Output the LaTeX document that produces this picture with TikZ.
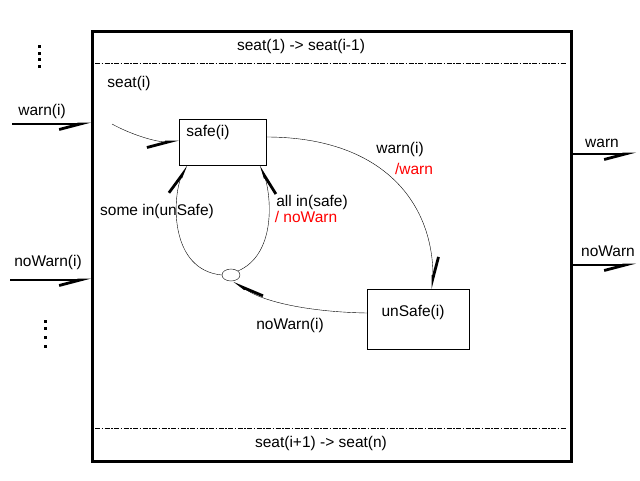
\documentclass[tikz,border=0pt]{standalone}
\usepackage{fontspec}
\setmainfont{Liberation Sans}
\usetikzlibrary{calc,arrows.meta,shapes.geometric}

\begin{document}
\begin{tikzpicture}[x=1pt, y=-1pt, font=\fontsize{15.5}{18}\selectfont,
    state/.style={draw, rectangle, inner sep=0pt},
    frame/.style={draw, line width=2.5pt, inner sep=0pt},
    txt/.style={inner sep=0pt},
    act/.style={txt, text=red},
    wire/.style={line width=2.5pt},
    sig/.style={line width=2pt},
    sep/.style={dash pattern=on 5pt off 1.5pt on 1.5pt off 1.5pt},
    barbL/.style={-{Straight Barb[left, length=21pt, width=11pt, line width=2.8pt]}},
    barbR/.style={-{Straight Barb[right, length=21pt, width=11pt, line width=2.8pt]}}]

  \useasboundingbox (0,0) rectangle (640,480);

  \node[frame, minimum width=479pt, minimum height=430pt, anchor=north west] (sys) at (91,30) {};
  \draw[sep] (95,63) -- (567,63);
  \draw[sep] (95,428) -- (567,428);
  \node[txt] (upper) at (301,46) {seat(1) -> seat(i-1)};
  \node[txt] (lower) at (321,443) {seat(i+1) -> seat(n)};
  \node[txt] (seat) at (129,83) {seat(i)};

  \node[state, minimum width=87pt, minimum height=46pt] (safe) at (222.5,142) {};
  \node[txt] (safename) at (208,132) {safe(i)};
  \node[state, minimum width=102pt, minimum height=60pt] (unsafe) at (418,319) {};
  \node[txt] (unsafename) at (413,312) {unSafe(i)};
  \node[draw, ellipse, inner sep=0pt, minimum width=18pt, minimum height=12pt] (join) at (231,275) {};

  \coordinate (init) at (112,124);
  \draw[barbR] (init) .. controls (130,134) and (155,142) .. (safe.west);
  \draw[barbL] ($(safe.east)+(0,-5)$) .. controls (380,137) and (433,200) .. ($(unsafe.north)+(15,0)$);
  \draw[barbR] ($(unsafe.west)+(0,-6)$) .. controls (310,312) and (262,302) .. (join.-60);
  \draw[barbL] (join.west) .. controls (170,270) and (172,200) .. ($(safe.south west)+(7,0)$);
  \draw[barbR] (join.30) .. controls (275,255) and (272,200) .. ($(safe.south east)+(-5,0)$);

  \node[txt] (trwarn) at (400,149) {warn(i)};
  \node[act] (trwarnout) at (414,169) {/warn};
  \node[txt] (trsome) at (157,211) {some in(unSafe)};
  \node[txt] (trall) at (312,202) {all in(safe)};
  \node[act] (trallout) at (306,217) {/ noWarn};
  \node[txt] (trnowarn) at (290,325) {noWarn(i)};

  \coordinate (warnin) at (12,124);
  \coordinate (nowarnin) at (10,280);
  \coordinate (warnout) at (636,154);
  \coordinate (nowarnout) at (636,265);
  \draw[wire,barbR] (warnin) -- (warnin -| sys.west);
  \draw[wire,barbR] (nowarnin) -- (nowarnin -| sys.west);
  \draw[sig,barbR] (warnout -| sys.east) -- (warnout);
  \draw[sig,barbR] (nowarnout -| sys.east) -- (nowarnout);
  \node[txt] (warnilbl) at (42,111) {warn(i)};
  \node[txt] (nowarnilbl) at (48,262) {noWarn(i)};
  \node[txt] (warnlbl) at (602,143) {warn};
  \node[txt] (nowarnlbl) at (608,251) {noWarn};

  \foreach \y in {46,53,59,66} \fill (37.5,\y-1.5) rectangle ++(3,3);
  \foreach \y in {321,328,337,346} \fill (43.5,\y-1.5) rectangle ++(3,3);
\end{tikzpicture}
\end{document}
